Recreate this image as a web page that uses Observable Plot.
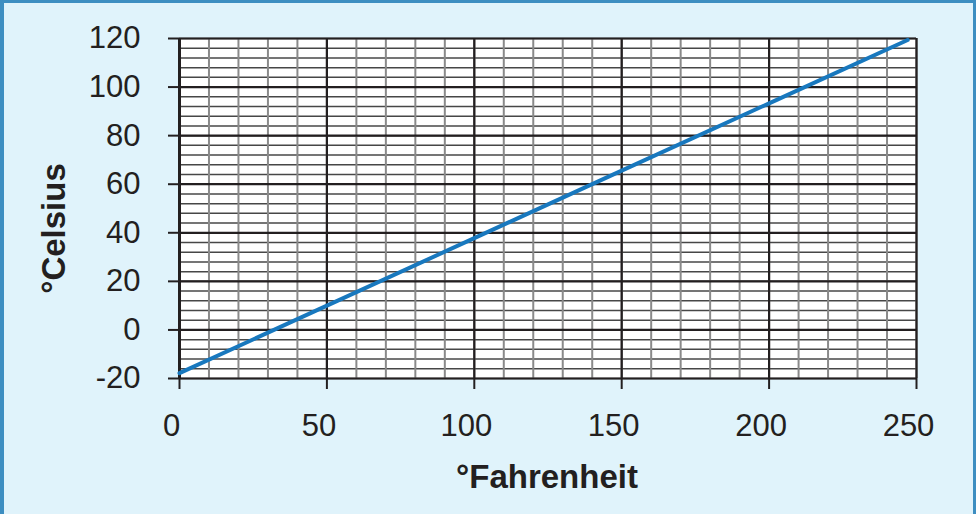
<!DOCTYPE html>
<html>
<head>
<meta charset="utf-8">
<script src="https://cdn.jsdelivr.net/npm/d3@7"></script>
<script src="https://cdn.jsdelivr.net/npm/@observablehq/plot@0.6"></script>
<style>
  html, body { margin: 0; padding: 0; background: #e0f3fb; }
  #chart { position: relative; width: 976px; height: 514px; background: #e0f3fb; }
  #chart svg { display: block; }
  #border { position: absolute; left: 0; top: 0; right: 0; bottom: 0; box-sizing: border-box;
            border-left: 4px solid #3d8ec1; border-right: 3px solid #3d8ec1; border-top: 3px solid #3d8ec1;
            pointer-events: none; }
</style>
</head>
<body>
<div id="chart"></div>
<script>
// Data
const fahrenheit = [0, 50, 100, 150, 200, 247];
const celsius = [-17.8, 10, 37.8, 65.6, 93.3, 119.4];

// Tick values
const xTicks = [0, 50, 100, 150, 200, 250];
const yTicks = [-20, 0, 20, 40, 60, 80, 100, 120];
const xMinor = d3.range(0, 251, 10);
const yMinor = d3.range(-20, 121, 4);

const xTitle = "°Fahrenheit";
const yTitle = "°Celsius";

const data = fahrenheit.map((f, i) => ({f, c: celsius[i]}));

const font = "'Liberation Sans', Arial, Helvetica, sans-serif";

const chart = Plot.plot({
  width: 976,
  height: 514,
  marginLeft: 179,
  marginRight: 60,
  marginTop: 38,
  marginBottom: 136,
  style: {background: "transparent", fontFamily: font, color: "#231f20"},
  x: {domain: [0, 250], axis: null},
  y: {domain: [-20, 120], axis: null},
  marks: [
    Plot.frame({fill: "white", stroke: null}),
    Plot.ruleY(yMinor, {stroke: "#474747", strokeWidth: 1.5}),
    Plot.ruleX(xMinor, {stroke: "#8a8a8a", strokeWidth: 2}),
    Plot.ruleY(yTicks, {stroke: "#231f20", strokeWidth: 2.2}),
    Plot.ruleX(xTicks, {stroke: "#231f20", strokeWidth: 2.2}),
    Plot.ruleX([0], {stroke: "#231f20", strokeWidth: 3}),
    Plot.line(data, {x: "f", y: "c", stroke: "#1878be", strokeWidth: 4}),
    // y axis ticks + labels
    Plot.axisY({ticks: yTicks, tickSize: 11, tickPadding: 28, fontSize: 31, stroke: "#231f20", strokeWidth: 2, label: null, tickFormat: d => String(d)}),
    // x axis ticks
    Plot.axisX({ticks: xTicks, tickSize: 11, stroke: "#231f20", strokeWidth: 2, label: null, tickFormat: () => ""}),
    // x axis labels
    Plot.axisX({ticks: xTicks, tickSize: 0, tickPadding: 35, fontSize: 31, dx: -8, label: null, tickFormat: d => String(d)}),
    Plot.text([xTitle], {frameAnchor: "bottom", dy: 99, fontSize: 33, fontWeight: "bold", fill: "#231f20", lineAnchor: "middle", textAnchor: "middle", dx: -1}),
    Plot.text([yTitle], {frameAnchor: "left", dx: -125, dy: 20, rotate: -90, fontSize: 33, fontWeight: "bold", fill: "#231f20", lineAnchor: "middle", textAnchor: "middle"})
  ]
});

const el = document.getElementById("chart");
el.appendChild(chart);
const b = document.createElement("div");
b.id = "border";
el.appendChild(b);
</script>
</body>
</html>
